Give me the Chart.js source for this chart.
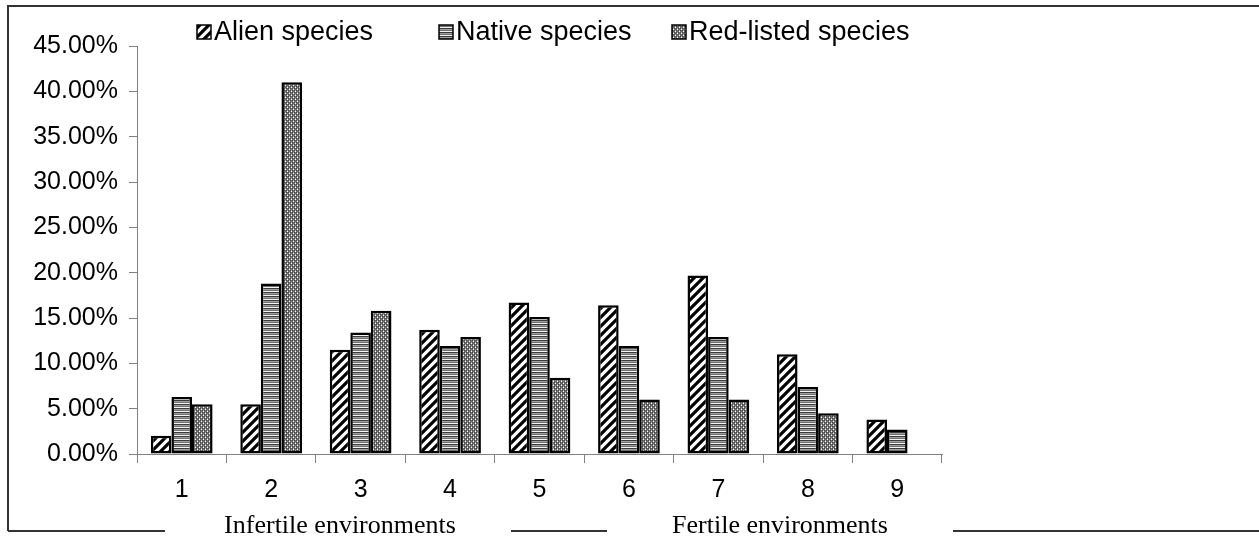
<!DOCTYPE html>
<html>
<head>
<meta charset="utf-8">
<script src="https://cdn.jsdelivr.net/npm/chart.js"></script>
<style>
  html, body { margin: 0; padding: 0; background: #fff; }
  canvas { display: block; }
</style>
</head>
<body>
<canvas id="speciesChart" width="1259" height="537"></canvas>
<script>
const categories = ['1', '2', '3', '4', '5', '6', '7', '8', '9'];
const alienSpecies = [2.0, 5.5, 11.5, 13.7, 16.7, 16.4, 19.7, 11.0, 3.8];
const nativeSpecies = [6.3, 18.8, 13.4, 11.9, 15.1, 11.9, 12.9, 7.4, 2.7];
const redListedSpecies = [5.5, 41.0, 15.8, 12.9, 8.4, 6.0, 6.0, 4.5, null];
const seriesNames = ['Alien species', 'Native species', 'Red-listed species'];
const yTicks = [0, 5, 10, 15, 20, 25, 30, 35, 40, 45];
const groupLabels = ['Infertile environments', 'Fertile environments'];

const SANS = '"Liberation Sans", Arial, sans-serif';
const SERIF = '"Liberation Serif", "Times New Roman", serif';

function makeTile(w, h, draw) {
  const c = document.createElement('canvas');
  c.width = w;
  c.height = h;
  draw(c.getContext('2d'), w, h);
  return document.createElement('canvas').getContext('2d').createPattern(c, 'repeat');
}

// diagonal black stripes on white
const diagPattern = makeTile(9, 9, (g, s) => {
  g.fillStyle = '#fff';
  g.fillRect(0, 0, s, s);
  g.strokeStyle = '#000';
  g.lineWidth = 3.2;
  g.beginPath();
  g.moveTo(-2, 2); g.lineTo(2, -2);
  g.moveTo(0, s); g.lineTo(s, 0);
  g.moveTo(s - 2, s + 2); g.lineTo(s + 2, s - 2);
  g.stroke();
});

// horizontal gray lines
const hLinePattern = makeTile(4, 4, (g) => {
  ['#3a3a3a', '#a0a0a0', '#707070', '#f4f4f4'].forEach((col, i) => {
    g.fillStyle = col;
    g.fillRect(0, i, 4, 1);
  });
});

// fine gray checker with light specks
const dotPattern = makeTile(4, 4, (g) => {
  g.fillStyle = '#6e6e6e';
  g.fillRect(0, 0, 4, 4);
  g.fillStyle = '#474747';
  g.fillRect(0, 0, 1, 1); g.fillRect(2, 2, 1, 1); g.fillRect(2, 0, 1, 1); g.fillRect(0, 2, 1, 1);
  g.fillStyle = '#a8a8a8';
  g.fillRect(1, 0, 1, 1); g.fillRect(3, 2, 1, 1);
  g.fillStyle = '#fff';
  g.fillRect(1, 1, 1, 1); g.fillRect(3, 3, 1, 1);
});

const patterns = [diagPattern, hLinePattern, dotPattern];

// frame, custom legend and the group captions under the axis
const decorPlugin = {
  id: 'decor',
  afterDraw(chart) {
    const ctx = chart.ctx;
    ctx.save();

    ctx.strokeStyle = '#333';
    ctx.lineWidth = 2;
    ctx.beginPath();
    ctx.moveTo(1259, 6); ctx.lineTo(8, 6); ctx.lineTo(8, 531);
    ctx.moveTo(8, 531); ctx.lineTo(165, 531);
    ctx.moveTo(511, 531); ctx.lineTo(607, 531);
    ctx.moveTo(953, 531); ctx.lineTo(1259, 531);
    ctx.stroke();

    ctx.fillStyle = '#000';
    ctx.font = '26px ' + SERIF;
    ctx.textAlign = 'center';
    ctx.textBaseline = 'alphabetic';
    ctx.fillText(groupLabels[0], 340, 533);
    ctx.fillText(groupLabels[1], 780, 533);

    const legendX = [197, 439, 672];
    ctx.font = '27px ' + SANS;
    ctx.textAlign = 'left';
    ctx.textBaseline = 'middle';
    seriesNames.forEach((name, i) => {
      const x = legendX[i];
      ctx.fillStyle = patterns[i];
      ctx.fillRect(x, 25, 14, 14);
      ctx.strokeStyle = '#000';
      ctx.lineWidth = 1.5;
      ctx.strokeRect(x, 25, 14, 14);
      ctx.fillStyle = '#000';
      ctx.fillText(name, x + 17, 33);
    });

    ctx.restore();
  }
};

const seriesValues = [alienSpecies, nativeSpecies, redListedSpecies];

new Chart(document.getElementById('speciesChart').getContext('2d'), {
  type: 'bar',
  data: {
    labels: categories,
    datasets: seriesValues.map((vals, i) => ({
      label: seriesNames[i],
      data: vals,
      backgroundColor: patterns[i],
      borderColor: '#000',
      borderWidth: 2.5,
      borderSkipped: false,
      categoryPercentage: 0.69,
      barPercentage: 1.0,
    })),
  },
  options: {
    responsive: false,
    animation: false,
    layout: { padding: { left: 0, right: 317, top: 46, bottom: 0 } },
    plugins: {
      legend: { display: false },
      title: { display: false },
      tooltip: { enabled: false },
    },
    scales: {
      x: {
        grid: {
          offset: true,
          drawOnChartArea: false,
          tickLength: 9,
          tickColor: '#808080',
        },
        border: { color: '#808080', width: 1 },
        ticks: {
          color: '#000',
          font: { family: SANS, size: 25 },
          padding: 12,
        },
        afterFit(scale) { scale.height = 83; },
      },
      y: {
        min: 0,
        max: 45,
        afterBuildTicks(scale) { scale.ticks = yTicks.map((v) => ({ value: v })); },
        grid: {
          drawOnChartArea: false,
          tickLength: 8,
          tickColor: '#808080',
        },
        border: { color: '#808080', width: 1 },
        ticks: {
          color: '#000',
          autoSkip: false,
          font: { family: SANS, size: 25 },
          padding: 11,
          callback: (v) => v.toFixed(2) + '%',
        },
        afterFit(scale) { scale.width = 137; },
      },
    },
  },
  plugins: [decorPlugin],
});
</script>
</body>
</html>
